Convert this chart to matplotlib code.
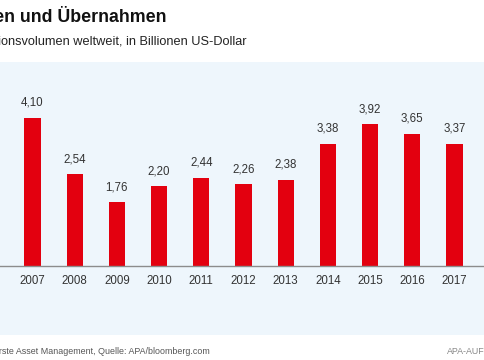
import numpy as np
import matplotlib
matplotlib.use("Agg")
import matplotlib.pyplot as plt

plt.rcParams['font.family'] = ['Liberation Sans', 'DejaVu Sans']

jahre = ["2006", "2007", "2008", "2009", "2010", "2011", "2012",
         "2013", "2014", "2015", "2016", "2017", "2018"]
volumen = [3.59, 4.10, 2.54, 1.76, 2.20, 2.44, 2.26,
           2.38, 3.38, 3.92, 3.65, 3.37, 2.50]
labels = ["3,59", "4,10", "2,54", "1,76", "2,20", "2,44", "2,26",
          "2,38", "3,38", "3,92", "3,65", "3,37", "2,50"]

rot = "#e3000f"
hell = "#eef6fc"
text_c = "#333333"

fig = plt.figure(figsize=(4.85, 3.6), dpi=100)
ax = fig.add_axes([0, 25/360, 1, 273/360])
ax.set_facecolor(hell)

x = np.arange(len(jahre))
ax.bar(x, volumen, width=0.38, color=rot, zorder=2)
ax.axhline(0, color="#8c8c8c", lw=1, zorder=3)

for i in range(len(jahre)):
    ax.annotate(labels[i], xy=(x[i], volumen[i]), xytext=(0, 15),
                textcoords="offset pixels", ha="center", va="center",
                fontsize=8.3, color=text_c)
    ax.annotate(jahre[i], xy=(x[i], 0), xytext=(0, -15),
                textcoords="offset pixels", ha="center", va="center",
                fontsize=8.3, color=text_c)
ax.annotate("1. Halbjahr", xy=(x[-1], 0), xytext=(0, -27),
            textcoords="offset pixels", ha="center", va="center",
            fontsize=8.3, color=text_c)

ax.set_xlim(0.2299, 11.723)
ax.set_ylim(-1.906, 5.635)
for s in ax.spines.values():
    s.set_visible(False)
ax.set_xticks([])
ax.set_yticks([])

fig.text(167/485, 1 - 17/360, "Fusionen und Übernahmen", ha="right", va="center",
         fontsize=12.8, fontweight="bold", color="#111111")
fig.text(247/485, 1 - 42/360, "Transaktionsvolumen weltweit, in Billionen US-Dollar",
         ha="right", va="center", fontsize=9.2, color="#222222")
fig.text(210/485, 1 - 352/360, "Grafik: Erste Asset Management, Quelle: APA/bloomberg.com",
         ha="right", va="center", fontsize=6.4, color="#555555")
fig.text(447/485, 1 - 352/360, "APA-AUFTRAGSGRAFIK", ha="left", va="center",
         fontsize=6.4, color="#888888")

fig.savefig("out.png", dpi=100)
